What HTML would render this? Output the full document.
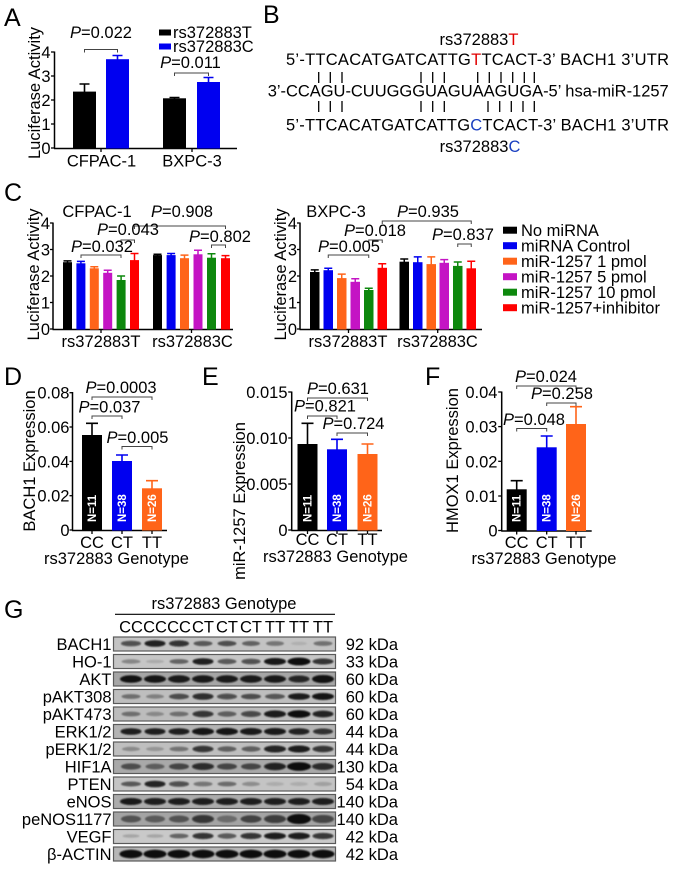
<!DOCTYPE html>
<html><head><meta charset="utf-8"><style>
html,body{margin:0;padding:0;background:#fff;}
svg{display:block;}
text{font-family:"Liberation Sans",Arial,sans-serif;}
</style></head><body>
<svg width="676" height="869" viewBox="0 0 676 869" xmlns="http://www.w3.org/2000/svg">
<defs><filter id="bl" x="-20%" y="-50%" width="140%" height="200%"><feGaussianBlur stdDeviation="0.9"/></filter></defs>
<g font-size="16.5" fill="#000">

<!-- ================= Panel A ================= -->
<text x="4" y="26" font-size="25">A</text>
<line x1="54.5" y1="51.5" x2="54.5" y2="148.5" stroke="#000" stroke-width="1.5"/>
<line x1="54" y1="148.5" x2="237" y2="148.5" stroke="#000" stroke-width="1.5"/>
<g stroke="#000" stroke-width="1.3">
<line x1="51" y1="52" x2="54.5" y2="52"/><line x1="51" y1="76" x2="54.5" y2="76"/><line x1="51" y1="100" x2="54.5" y2="100"/><line x1="51" y1="124" x2="54.5" y2="124"/><line x1="51" y1="148" x2="54.5" y2="148"/>
<line x1="101" y1="148" x2="101" y2="152"/><line x1="192" y1="148" x2="192" y2="152"/>
</g>
<g text-anchor="end"><text x="50.5" y="58">4</text><text x="50.5" y="82">3</text><text x="50.5" y="106">2</text><text x="50.5" y="130">1</text><text x="50.5" y="154">0</text></g>
<text transform="translate(40,93) rotate(-90)" text-anchor="middle">Luciferase Activity</text>
<rect x="73" y="91.6" width="23" height="56.9" fill="#000"/>
<rect x="106" y="59.2" width="23" height="89.3" fill="#0000f0"/>
<rect x="163" y="98.3" width="23" height="50.2" fill="#000"/>
<rect x="197" y="82" width="23" height="66.5" fill="#0000f0"/>
<g stroke-width="1.6" fill="none">
<path d="M84.5 92V84M79.5 84H89.5" stroke="#000"/>
<path d="M117.5 60V55.5M112.5 55.5H122.5" stroke="#0000f0"/>
<path d="M174.5 99V97.5M169.5 97.5H179.5" stroke="#000"/>
<path d="M208.5 82V77.5M203.5 77.5H213.5" stroke="#0000f0"/>
</g>
<text x="101.5" y="166.5" text-anchor="middle">CFPAC-1</text>
<text x="192" y="166.5" text-anchor="middle">BXPC-3</text>
<text x="101" y="38" text-anchor="middle"><tspan font-style="italic">P</tspan>=0.022</text>
<path d="M84.5 52.5V49.5H117.5V52.5" stroke="#444" fill="none" stroke-width="1"/>
<text x="190.5" y="68" text-anchor="middle"><tspan font-style="italic">P</tspan>=0.011</text>
<path d="M174.5 76V73H208.5V76" stroke="#444" fill="none" stroke-width="1"/>
<rect x="159" y="29.5" width="12" height="6" fill="#000"/>
<rect x="159" y="43.5" width="12" height="6" fill="#0000f0"/>
<text x="173" y="38">rs372883T</text>
<text x="173" y="52">rs372883C</text>

<!-- ================= Panel B ================= -->
<text x="263" y="23" font-size="25">B</text>
<text x="479" y="45" text-anchor="middle">rs372883<tspan fill="#e00000">T</tspan></text>
<text x="286" y="65" textLength="383" lengthAdjust="spacing">5’-TTCACATGATCATTG<tspan fill="#e00000">T</tspan>TCACT-3’ BACH1 3’UTR</text>
<text x="267.7" y="96.5" textLength="401" lengthAdjust="spacing">3’-CCAGU-CUUGGGUAGUAAGUGA-5’ hsa-miR-1257</text>
<text x="286" y="130.5" textLength="383" lengthAdjust="spacing">5’-TTCACATGATCATTG<tspan fill="#1a3fc0">C</tspan>TCACT-3’ BACH1 3’UTR</text>
<text x="480" y="152" text-anchor="middle">rs372883<tspan fill="#1a3fc0">C</tspan></text>
<g stroke="#000" stroke-width="1.3">
<path d="M318.7 72V83M330.3 72V83M342 72V83M421 72V83M432.7 72V83M444.3 72V83M477.7 72V83M489.3 72V83M501 72V83M512.7 72V83M524.3 72V83M534.3 72V83"/>
<path d="M318.7 101V112M330.3 101V112M342 101V112M421 101V112M432.7 101V112M444.3 101V112M488 101V112M499.7 101V112M511.3 101V112M523 101V112M534.3 101V112"/>
</g>

<!-- ================= Panel C left ================= -->
<text x="4" y="201" font-size="25">C</text>
<text x="97" y="217" text-anchor="middle">CFPAC-1</text>
<line x1="53" y1="222.5" x2="53" y2="329.5" stroke="#000" stroke-width="1.5"/>
<line x1="52.5" y1="329.5" x2="233" y2="329.5" stroke="#000" stroke-width="1.5"/>
<g stroke="#000" stroke-width="1.3">
<line x1="50" y1="223" x2="53" y2="223"/><line x1="50" y1="249.5" x2="53" y2="249.5"/><line x1="50" y1="276" x2="53" y2="276"/><line x1="50" y1="302.5" x2="53" y2="302.5"/><line x1="50" y1="329" x2="53" y2="329"/>
<line x1="101" y1="329" x2="101" y2="333"/><line x1="191.5" y1="329" x2="191.5" y2="333"/>
</g>
<g text-anchor="end"><text x="50" y="229">4</text><text x="50" y="255.5">3</text><text x="50" y="282">2</text><text x="50" y="308.5">1</text><text x="50" y="335">0</text></g>
<text transform="translate(39,274.5) rotate(-90)" text-anchor="middle">Luciferase Activity</text>
<g>
<rect x="63" y="262.2" width="9" height="67.3" fill="#000"/>
<rect x="76.4" y="263.3" width="9" height="66.2" fill="#0000f0"/>
<rect x="89.8" y="268.3" width="9" height="61.2" fill="#ff6419"/>
<rect x="103.2" y="272.8" width="9" height="56.7" fill="#c414c4"/>
<rect x="116.6" y="280" width="9" height="49.5" fill="#0d880d"/>
<rect x="130" y="260.1" width="9" height="69.4" fill="#ff0000"/>
<rect x="153" y="255.1" width="9" height="74.4" fill="#000"/>
<rect x="166.6" y="255.1" width="9" height="74.4" fill="#0000f0"/>
<rect x="180" y="258.2" width="9" height="71.3" fill="#ff6419"/>
<rect x="193.5" y="254.3" width="9" height="75.2" fill="#c414c4"/>
<rect x="207" y="257.7" width="9" height="71.8" fill="#0d880d"/>
<rect x="221" y="258.2" width="9" height="71.3" fill="#ff0000"/>
</g>
<g stroke-width="1.5" fill="none">
<path d="M67.5 263V260.9M63.5 260.9H71.5" stroke="#000"/>
<path d="M80.9 264V261.4M76.9 261.4H84.9" stroke="#0000f0"/>
<path d="M94.3 269V266.7M90.3 266.7H98.3" stroke="#ff6419"/>
<path d="M107.7 273V270.2M103.7 270.2H111.7" stroke="#c414c4"/>
<path d="M121.1 280V276M117.1 276H125.1" stroke="#0d880d"/>
<path d="M134.5 261V253.5M130.5 253.5H138.5" stroke="#ff0000"/>
<path d="M157.5 256V254.3M153.5 254.3H161.5" stroke="#000"/>
<path d="M171.1 256V253.5M167.1 253.5H175.1" stroke="#0000f0"/>
<path d="M184.5 259V255.1M180.5 255.1H188.5" stroke="#ff6419"/>
<path d="M198 255V250.3M194 250.3H202" stroke="#c414c4"/>
<path d="M211.5 258V253.7M207.5 253.7H215.5" stroke="#0d880d"/>
<path d="M225.5 259V255.6M221.5 255.6H229.5" stroke="#ff0000"/>
</g>
<text x="101" y="347" text-anchor="middle">rs372883T</text>
<text x="192.5" y="347" text-anchor="middle">rs372883C</text>
<g stroke="#444" fill="none" stroke-width="1">
<path d="M81 258V255H121V258"/>
<path d="M121 243V240H134.5V243"/>
<path d="M134.5 229V226H225.5V229"/>
<path d="M211.5 248V245H225.5V248"/>
</g>
<text x="102" y="252" text-anchor="middle"><tspan font-style="italic">P</tspan>=0.032</text>
<text x="128" y="235" text-anchor="middle"><tspan font-style="italic">P</tspan>=0.043</text>
<text x="182" y="217" text-anchor="middle"><tspan font-style="italic">P</tspan>=0.908</text>
<text x="220" y="242" text-anchor="middle"><tspan font-style="italic">P</tspan>=0.802</text>

<!-- ================= Panel C right ================= -->
<text x="336" y="217" text-anchor="middle">BXPC-3</text>
<line x1="300" y1="222.5" x2="300" y2="329.5" stroke="#000" stroke-width="1.5"/>
<line x1="299.5" y1="329.5" x2="482" y2="329.5" stroke="#000" stroke-width="1.5"/>
<g stroke="#000" stroke-width="1.3">
<line x1="297" y1="223" x2="300" y2="223"/><line x1="297" y1="249.5" x2="300" y2="249.5"/><line x1="297" y1="276" x2="300" y2="276"/><line x1="297" y1="302.5" x2="300" y2="302.5"/><line x1="297" y1="329" x2="300" y2="329"/>
<line x1="348.5" y1="329" x2="348.5" y2="333"/><line x1="437.7" y1="329" x2="437.7" y2="333"/>
</g>
<g text-anchor="end"><text x="297" y="229">4</text><text x="297" y="255.5">3</text><text x="297" y="282">2</text><text x="297" y="308.5">1</text><text x="297" y="335">0</text></g>
<text transform="translate(286,274.5) rotate(-90)" text-anchor="middle">Luciferase Activity</text>
<g>
<rect x="310" y="272" width="9.5" height="57.5" fill="#000"/>
<rect x="323.5" y="270.2" width="9.5" height="59.3" fill="#0000f0"/>
<rect x="337" y="278.1" width="9.5" height="51.4" fill="#ff6419"/>
<rect x="350.5" y="281.8" width="9.5" height="47.7" fill="#c414c4"/>
<rect x="364" y="290" width="9.5" height="39.5" fill="#0d880d"/>
<rect x="377.5" y="267.8" width="9.5" height="61.7" fill="#ff0000"/>
<rect x="399.5" y="261.7" width="9.5" height="67.8" fill="#000"/>
<rect x="413" y="262.2" width="9.5" height="67.3" fill="#0000f0"/>
<rect x="426.5" y="264.1" width="9.5" height="65.4" fill="#ff6419"/>
<rect x="439.5" y="262.8" width="9.5" height="66.7" fill="#c414c4"/>
<rect x="453" y="265.9" width="9.5" height="63.6" fill="#0d880d"/>
<rect x="466.5" y="268.3" width="9.5" height="61.2" fill="#ff0000"/>
</g>
<g stroke-width="1.5" fill="none">
<path d="M314.75 273V269.9M310.75 269.9H318.75" stroke="#000"/>
<path d="M328.25 271V268.3M324.25 268.3H332.25" stroke="#0000f0"/>
<path d="M341.75 279V274.1M337.75 274.1H345.75" stroke="#ff6419"/>
<path d="M355.25 282V278.7M351.25 278.7H359.25" stroke="#c414c4"/>
<path d="M368.75 291V288.2M364.75 288.2H372.75" stroke="#0d880d"/>
<path d="M382.25 268V263.8M378.25 263.8H386.25" stroke="#ff0000"/>
<path d="M404.25 262V259M400.25 259H408.25" stroke="#000"/>
<path d="M417.75 263V256.9M413.75 256.9H421.75" stroke="#0000f0"/>
<path d="M431.25 265V256.9M427.25 256.9H435.25" stroke="#ff6419"/>
<path d="M444.25 263V259.6M440.25 259.6H448.25" stroke="#c414c4"/>
<path d="M457.75 266V262M453.75 262H461.75" stroke="#0d880d"/>
<path d="M471.25 269V261.2M467.25 261.2H475.25" stroke="#ff0000"/>
</g>
<text x="348" y="347" text-anchor="middle">rs372883T</text>
<text x="437.5" y="347" text-anchor="middle">rs372883C</text>
<g stroke="#444" fill="none" stroke-width="1">
<path d="M328.25 258V255H368.75V258"/>
<path d="M368.75 243V240H382.25V243"/>
<path d="M382.25 224V221H471.25V224"/>
<path d="M457.75 247V244H471.25V247"/>
</g>
<text x="349" y="252" text-anchor="middle"><tspan font-style="italic">P</tspan>=0.005</text>
<text x="375" y="236" text-anchor="middle"><tspan font-style="italic">P</tspan>=0.018</text>
<text x="428" y="217" text-anchor="middle"><tspan font-style="italic">P</tspan>=0.935</text>
<text x="463" y="240" text-anchor="middle"><tspan font-style="italic">P</tspan>=0.837</text>

<!-- legend C -->
<rect x="503" y="226.7" width="14" height="7" fill="#000"/>
<rect x="503" y="242.2" width="14" height="7" fill="#0000f0"/>
<rect x="503" y="257.7" width="14" height="7" fill="#ff6419"/>
<rect x="503" y="273.2" width="14" height="7" fill="#c414c4"/>
<rect x="503" y="288.7" width="14" height="7" fill="#0d880d"/>
<rect x="503" y="304.2" width="14" height="7" fill="#ff0000"/>
<text x="521" y="236">No miRNA</text>
<text x="521" y="251.5">miRNA Control</text>
<text x="521" y="267">miR-1257 1 pmol</text>
<text x="521" y="282.5">miR-1257 5 pmol</text>
<text x="521" y="298">miR-1257 10 pmol</text>
<text x="521" y="313.5">miR-1257+inhibitor</text>

<!-- ================= Panel D ================= -->
<text x="4" y="385" font-size="25">D</text>
<line x1="72.5" y1="392" x2="72.5" y2="530.5" stroke="#000" stroke-width="1.5"/>
<line x1="72" y1="530.5" x2="167" y2="530.5" stroke="#000" stroke-width="1.5"/>
<g stroke="#000" stroke-width="1.3">
<line x1="69.5" y1="392.7" x2="72.5" y2="392.7"/><line x1="69.5" y1="427" x2="72.5" y2="427"/><line x1="69.5" y1="461.4" x2="72.5" y2="461.4"/><line x1="69.5" y1="495.7" x2="72.5" y2="495.7"/><line x1="69.5" y1="530" x2="72.5" y2="530"/>
<line x1="92" y1="530" x2="92" y2="534"/><line x1="122" y1="530" x2="122" y2="534"/><line x1="152" y1="530" x2="152" y2="534"/>
</g>
<g text-anchor="end"><text x="69.5" y="398.7">0.08</text><text x="69.5" y="433">0.06</text><text x="69.5" y="467.4">0.04</text><text x="69.5" y="501.7">0.02</text><text x="69.5" y="536">0</text></g>
<text transform="translate(35,461) rotate(-90)" text-anchor="middle">BACH1 Expression</text>
<rect x="82" y="435" width="20" height="95.5" fill="#000"/>
<rect x="112" y="461" width="20" height="69.5" fill="#0000f0"/>
<rect x="142" y="488.3" width="20" height="42.2" fill="#ff6419"/>
<g stroke-width="1.6" fill="none">
<path d="M92 436V423.3M86 423.3H98" stroke="#000"/>
<path d="M122 462V455M116 455H128" stroke="#0000f0"/>
<path d="M152 489V480.7M146 480.7H158" stroke="#ff6419"/>
</g>
<g fill="#fff" font-size="11.5" font-weight="bold">
<text transform="translate(96,522) rotate(-90)">N=11</text>
<text transform="translate(126,522) rotate(-90)">N=38</text>
<text transform="translate(156,522) rotate(-90)">N=26</text>
</g>
<text x="92" y="548" text-anchor="middle">CC</text><text x="122" y="548" text-anchor="middle">CT</text><text x="152" y="548" text-anchor="middle">TT</text>
<text x="116.5" y="564" text-anchor="middle">rs372883 Genotype</text>
<g stroke="#444" fill="none" stroke-width="1">
<path d="M92 400V397H152V400"/>
<path d="M92 419V416H122V419"/>
<path d="M122 449.5V446.5H152V449.5"/>
</g>
<text x="121" y="393" text-anchor="middle"><tspan font-style="italic">P</tspan>=0.0003</text>
<text x="109.5" y="412.5" text-anchor="middle"><tspan font-style="italic">P</tspan>=0.037</text>
<text x="137.5" y="443" text-anchor="middle"><tspan font-style="italic">P</tspan>=0.005</text>

<!-- ================= Panel E ================= -->
<text x="202" y="385" font-size="25">E</text>
<line x1="291.7" y1="391.5" x2="291.7" y2="530.5" stroke="#000" stroke-width="1.5"/>
<line x1="291.2" y1="530.5" x2="382" y2="530.5" stroke="#000" stroke-width="1.5"/>
<g stroke="#000" stroke-width="1.3">
<line x1="288.2" y1="392" x2="291.7" y2="392"/><line x1="288.2" y1="438" x2="291.7" y2="438"/><line x1="288.2" y1="484" x2="291.7" y2="484"/><line x1="288.2" y1="530" x2="291.7" y2="530"/>
<line x1="307.5" y1="530" x2="307.5" y2="534"/><line x1="337" y1="530" x2="337" y2="534"/><line x1="367.5" y1="530" x2="367.5" y2="534"/>
</g>
<g text-anchor="end"><text x="287.5" y="398">0.015</text><text x="287.5" y="444">0.010</text><text x="287.5" y="490">0.005</text><text x="287.5" y="536">0</text></g>
<text transform="translate(245,501) rotate(-90)" text-anchor="middle">miR-1257 Expression</text>
<rect x="297.5" y="444" width="20" height="86.5" fill="#000"/>
<rect x="327" y="449.3" width="20" height="81.2" fill="#0000f0"/>
<rect x="357.5" y="454" width="20" height="76.5" fill="#ff6419"/>
<g stroke-width="1.6" fill="none">
<path d="M307.5 445V423.3M301.5 423.3H313.5" stroke="#000"/>
<path d="M337 450V439.3M331 439.3H343" stroke="#0000f0"/>
<path d="M367.5 455V444M361.5 444H373.5" stroke="#ff6419"/>
</g>
<g fill="#fff" font-size="11.5" font-weight="bold">
<text transform="translate(311.5,522) rotate(-90)">N=11</text>
<text transform="translate(341,522) rotate(-90)">N=38</text>
<text transform="translate(371.5,522) rotate(-90)">N=26</text>
</g>
<text x="307.5" y="545" text-anchor="middle">CC</text><text x="337" y="545" text-anchor="middle">CT</text><text x="367.5" y="545" text-anchor="middle">TT</text>
<text x="335.5" y="562" text-anchor="middle">rs372883 Genotype</text>
<g stroke="#444" fill="none" stroke-width="1">
<path d="M307.5 401V398H367.5V401"/>
<path d="M307.5 419V416H337V419"/>
<path d="M337 436V433H367.5V436"/>
</g>
<text x="338" y="394" text-anchor="middle"><tspan font-style="italic">P</tspan>=0.631</text>
<text x="325" y="411.5" text-anchor="middle"><tspan font-style="italic">P</tspan>=0.821</text>
<text x="353.5" y="429" text-anchor="middle"><tspan font-style="italic">P</tspan>=0.724</text>

<!-- ================= Panel F ================= -->
<text x="425" y="385" font-size="25">F</text>
<line x1="501.7" y1="391.5" x2="501.7" y2="531" stroke="#000" stroke-width="1.5"/>
<line x1="501.2" y1="531" x2="591.7" y2="531" stroke="#000" stroke-width="1.5"/>
<g stroke="#000" stroke-width="1.3">
<line x1="498.2" y1="392" x2="501.7" y2="392"/><line x1="498.2" y1="426.6" x2="501.7" y2="426.6"/><line x1="498.2" y1="461.3" x2="501.7" y2="461.3"/><line x1="498.2" y1="496" x2="501.7" y2="496"/><line x1="498.2" y1="530.5" x2="501.7" y2="530.5"/>
<line x1="516.7" y1="530.5" x2="516.7" y2="534.5"/><line x1="546.7" y1="530.5" x2="546.7" y2="534.5"/><line x1="576" y1="530.5" x2="576" y2="534.5"/>
</g>
<g text-anchor="end"><text x="497.5" y="398">0.04</text><text x="497.5" y="432.6">0.03</text><text x="497.5" y="467.3">0.02</text><text x="497.5" y="502">0.01</text><text x="497.5" y="536.5">0</text></g>
<text transform="translate(458,460.5) rotate(-90)" text-anchor="middle">HMOX1 Expression</text>
<rect x="506.7" y="489.3" width="20" height="41.7" fill="#000"/>
<rect x="536.7" y="447.3" width="20" height="83.7" fill="#0000f0"/>
<rect x="566" y="424" width="20" height="107" fill="#ff6419"/>
<g stroke-width="1.6" fill="none">
<path d="M516.7 490V480.7M510.7 480.7H522.7" stroke="#000"/>
<path d="M546.7 448V436M540.7 436H552.7" stroke="#0000f0"/>
<path d="M576 425V406.7M570 406.7H582" stroke="#ff6419"/>
</g>
<g fill="#fff" font-size="11.5" font-weight="bold">
<text transform="translate(520.7,522) rotate(-90)">N=11</text>
<text transform="translate(550.7,522) rotate(-90)">N=38</text>
<text transform="translate(580,522) rotate(-90)">N=26</text>
</g>
<text x="516.7" y="548" text-anchor="middle">CC</text><text x="546.7" y="548" text-anchor="middle">CT</text><text x="576" y="548" text-anchor="middle">TT</text>
<text x="544" y="564" text-anchor="middle">rs372883 Genotype</text>
<g stroke="#444" fill="none" stroke-width="1">
<path d="M516.7 389V386H576V389"/>
<path d="M546.7 406V403H576V406"/>
<path d="M516.7 431.5V428.5H546.7V431.5"/>
</g>
<text x="546" y="382" text-anchor="middle"><tspan font-style="italic">P</tspan>=0.024</text>
<text x="562" y="399" text-anchor="middle"><tspan font-style="italic">P</tspan>=0.258</text>
<text x="534" y="425" text-anchor="middle"><tspan font-style="italic">P</tspan>=0.048</text>

<!-- ================= Panel G ================= -->
<text x="4" y="618" font-size="25">G</text>
<text x="224" y="609" text-anchor="middle">rs372883 Genotype</text>
<line x1="115" y1="614.3" x2="335" y2="614.3" stroke="#000" stroke-width="1.2"/>
<g text-anchor="middle">
<text x="131" y="632.7">CC</text><text x="155" y="632.7">CC</text><text x="179" y="632.7">CC</text>
<text x="203" y="632.7">CT</text><text x="227" y="632.7">CT</text><text x="251" y="632.7">CT</text>
<text x="275" y="632.7">TT</text><text x="299" y="632.7">TT</text><text x="323" y="632.7">TT</text>
</g>

<!-- strips -->
<g stroke="#5a5a5a" stroke-width="1.2">
<rect x="113.5" y="637" width="222" height="14" fill="#c3c3c3"/>
<rect x="113.5" y="654.5" width="222" height="14" fill="#c6c6c6"/>
<rect x="113.5" y="672" width="222" height="14" fill="#a6a6a6"/>
<rect x="113.5" y="689.5" width="222" height="14" fill="#bebebe"/>
<rect x="113.5" y="707" width="222" height="14" fill="#bcbcbc"/>
<rect x="113.5" y="724.5" width="222" height="14" fill="#b4b4b4"/>
<rect x="113.5" y="742" width="222" height="14" fill="#bfbfbf"/>
<rect x="113.5" y="759.5" width="222" height="14" fill="#a9a9a9"/>
<rect x="113.5" y="777" width="222" height="14" fill="#c4c4c4"/>
<rect x="113.5" y="794.5" width="222" height="14" fill="#acacac"/>
<rect x="113.5" y="812" width="222" height="14" fill="#a4a4a4"/>
<rect x="113.5" y="829.5" width="222" height="14" fill="#c9c9c9"/>
<rect x="113.5" y="847" width="222" height="14" fill="#b6b6b6"/>
</g>

<!-- bands -->
<g filter="url(#bl)" fill="#0a0a0a">
<g transform="translate(0,643.5)">
<ellipse cx="131" cy="0" rx="10" ry="2.8" opacity="0.65"/><ellipse cx="155" cy="0" rx="10.5" ry="3.3" opacity="0.9"/><ellipse cx="179" cy="0" rx="10" ry="3.1" opacity="0.8"/><ellipse cx="203" cy="0" rx="9.5" ry="2.6" opacity="0.55"/><ellipse cx="227" cy="0" rx="9.5" ry="2.7" opacity="0.6"/><ellipse cx="251" cy="0" rx="9" ry="2.5" opacity="0.5"/><ellipse cx="275" cy="0" rx="9" ry="2.4" opacity="0.4"/><ellipse cx="299" cy="0" rx="8" ry="1.8" opacity="0.1"/><ellipse cx="323" cy="0" rx="9.5" ry="2.4" opacity="0.42"/>
</g>
<g transform="translate(0,661.5)">
<ellipse cx="131" cy="0" rx="9.5" ry="2.2" opacity="0.32"/><ellipse cx="155" cy="0" rx="9" ry="1.8" opacity="0.14"/><ellipse cx="179" cy="0" rx="9.5" ry="2.4" opacity="0.5"/><ellipse cx="203" cy="0" rx="10.5" ry="3.3" opacity="0.9"/><ellipse cx="227" cy="0" rx="9.5" ry="2.7" opacity="0.55"/><ellipse cx="251" cy="0" rx="9.5" ry="2.8" opacity="0.65"/><ellipse cx="275" cy="0" rx="11" ry="3.5" opacity="0.95"/><ellipse cx="299" cy="0" rx="11.5" ry="3.9" opacity="1"/><ellipse cx="323" cy="0" rx="10.5" ry="3" opacity="0.8"/>
</g>
<g transform="translate(0,679)">
<ellipse cx="131" cy="0" rx="11" ry="3.8" opacity="0.97"/><ellipse cx="155" cy="0" rx="11" ry="3.8" opacity="0.95"/><ellipse cx="179" cy="0" rx="11" ry="3.7" opacity="0.92"/><ellipse cx="203" cy="0" rx="11" ry="3.7" opacity="0.93"/><ellipse cx="227" cy="0" rx="11" ry="3.7" opacity="0.92"/><ellipse cx="251" cy="0" rx="11" ry="3.7" opacity="0.92"/><ellipse cx="275" cy="0" rx="11" ry="3.7" opacity="0.93"/><ellipse cx="299" cy="0" rx="10.5" ry="3.5" opacity="0.85"/><ellipse cx="323" cy="0" rx="11" ry="4" opacity="0.97"/>
</g>
<g transform="translate(0,696.5)">
<ellipse cx="131" cy="0" rx="9.5" ry="2.4" opacity="0.42"/><ellipse cx="155" cy="0" rx="9" ry="2.2" opacity="0.33"/><ellipse cx="179" cy="0" rx="10" ry="2.9" opacity="0.6"/><ellipse cx="203" cy="0" rx="10.5" ry="3.3" opacity="0.82"/><ellipse cx="227" cy="0" rx="10" ry="2.9" opacity="0.65"/><ellipse cx="251" cy="0" rx="10" ry="2.8" opacity="0.6"/><ellipse cx="275" cy="0" rx="10" ry="2.7" opacity="0.55"/><ellipse cx="299" cy="0" rx="11" ry="3.3" opacity="0.92"/><ellipse cx="323" cy="0" rx="11" ry="3.5" opacity="0.96"/>
</g>
<g transform="translate(0,714)">
<ellipse cx="131" cy="0" rx="9.5" ry="2.4" opacity="0.42"/><ellipse cx="155" cy="0" rx="9" ry="2.2" opacity="0.28"/><ellipse cx="179" cy="0" rx="9.5" ry="2.4" opacity="0.42"/><ellipse cx="203" cy="0" rx="10.5" ry="3.2" opacity="0.78"/><ellipse cx="227" cy="0" rx="9.5" ry="2.7" opacity="0.5"/><ellipse cx="251" cy="0" rx="10" ry="3" opacity="0.68"/><ellipse cx="275" cy="0" rx="11" ry="3.6" opacity="0.92"/><ellipse cx="299" cy="0" rx="11.5" ry="3.8" opacity="1"/><ellipse cx="323" cy="0" rx="10.5" ry="3.4" opacity="0.88"/>
</g>
<g transform="translate(0,731.5)">
<ellipse cx="131" cy="0" rx="10.5" ry="3.3" opacity="0.9"/><ellipse cx="155" cy="0" rx="10.5" ry="3.3" opacity="0.9"/><ellipse cx="179" cy="0" rx="10.5" ry="3.3" opacity="0.9"/><ellipse cx="203" cy="0" rx="11" ry="3.6" opacity="0.95"/><ellipse cx="227" cy="0" rx="11" ry="3.6" opacity="0.95"/><ellipse cx="251" cy="0" rx="11" ry="3.5" opacity="0.93"/><ellipse cx="275" cy="0" rx="11" ry="3.5" opacity="0.93"/><ellipse cx="299" cy="0" rx="10.5" ry="3.3" opacity="0.88"/><ellipse cx="323" cy="0" rx="10" ry="3" opacity="0.8"/>
</g>
<g transform="translate(0,749)">
<ellipse cx="131" cy="0" rx="9" ry="2.2" opacity="0.28"/><ellipse cx="155" cy="0" rx="9" ry="2.1" opacity="0.22"/><ellipse cx="179" cy="0" rx="9.5" ry="2.4" opacity="0.4"/><ellipse cx="203" cy="0" rx="10.5" ry="3.2" opacity="0.78"/><ellipse cx="227" cy="0" rx="9.5" ry="2.7" opacity="0.5"/><ellipse cx="251" cy="0" rx="9.5" ry="2.7" opacity="0.5"/><ellipse cx="275" cy="0" rx="11" ry="3.5" opacity="0.88"/><ellipse cx="299" cy="0" rx="11" ry="3.5" opacity="0.92"/><ellipse cx="323" cy="0" rx="10.5" ry="3.2" opacity="0.78"/>
</g>
<g transform="translate(0,766.5)">
<ellipse cx="131" cy="0" rx="10" ry="3.1" opacity="0.55"/><ellipse cx="155" cy="0" rx="9.5" ry="2.9" opacity="0.45"/><ellipse cx="179" cy="0" rx="10" ry="3.1" opacity="0.6"/><ellipse cx="203" cy="0" rx="11" ry="3.5" opacity="0.82"/><ellipse cx="227" cy="0" rx="10" ry="3.1" opacity="0.6"/><ellipse cx="251" cy="0" rx="10" ry="3.1" opacity="0.6"/><ellipse cx="275" cy="0" rx="11" ry="3.7" opacity="0.88"/><ellipse cx="299" cy="0" rx="12" ry="4.3" opacity="1"/><ellipse cx="323" cy="0" rx="11" ry="3.5" opacity="0.82"/>
</g>
<g transform="translate(0,784)">
<ellipse cx="131" cy="0" rx="10" ry="2.5" opacity="0.55"/><ellipse cx="155" cy="0" rx="10.5" ry="3.3" opacity="0.88"/><ellipse cx="179" cy="0" rx="10" ry="2.8" opacity="0.65"/><ellipse cx="203" cy="0" rx="9.5" ry="2.4" opacity="0.4"/><ellipse cx="227" cy="0" rx="9.5" ry="2.4" opacity="0.45"/><ellipse cx="251" cy="0" rx="9" ry="2.2" opacity="0.28"/><ellipse cx="275" cy="0" rx="9" ry="2" opacity="0.12"/><ellipse cx="299" cy="0" rx="9" ry="2" opacity="0.12"/><ellipse cx="323" cy="0" rx="9" ry="2.1" opacity="0.18"/>
</g>
<g transform="translate(0,801.5)">
<ellipse cx="131" cy="0" rx="11" ry="3.5" opacity="0.93"/><ellipse cx="155" cy="0" rx="11" ry="3.5" opacity="0.9"/><ellipse cx="179" cy="0" rx="11" ry="3.5" opacity="0.9"/><ellipse cx="203" cy="0" rx="11" ry="3.5" opacity="0.9"/><ellipse cx="227" cy="0" rx="11" ry="3.5" opacity="0.9"/><ellipse cx="251" cy="0" rx="11" ry="3.5" opacity="0.9"/><ellipse cx="275" cy="0" rx="11" ry="3.5" opacity="0.9"/><ellipse cx="299" cy="0" rx="11" ry="3.5" opacity="0.9"/><ellipse cx="323" cy="0" rx="11" ry="3.5" opacity="0.9"/>
</g>
<g transform="translate(0,819)">
<ellipse cx="131" cy="0" rx="10" ry="3.5" opacity="0.5"/><ellipse cx="155" cy="0" rx="10" ry="3.5" opacity="0.45"/><ellipse cx="179" cy="0" rx="10" ry="3.5" opacity="0.5"/><ellipse cx="203" cy="0" rx="11" ry="4" opacity="0.75"/><ellipse cx="227" cy="0" rx="10" ry="3.5" opacity="0.35"/><ellipse cx="251" cy="0" rx="10.5" ry="3.7" opacity="0.6"/><ellipse cx="275" cy="0" rx="11" ry="4" opacity="0.7"/><ellipse cx="299" cy="0" rx="12" ry="5" opacity="1"/><ellipse cx="323" cy="0" rx="11" ry="4" opacity="0.65"/>
</g>
<g transform="translate(0,836)">
<ellipse cx="131" cy="0" rx="8.5" ry="1.8" opacity="0.18"/><ellipse cx="155" cy="0" rx="8.5" ry="1.8" opacity="0.18"/><ellipse cx="179" cy="0" rx="9.5" ry="2.4" opacity="0.5"/><ellipse cx="203" cy="0" rx="10.5" ry="3.1" opacity="0.8"/><ellipse cx="227" cy="0" rx="9.5" ry="2.7" opacity="0.55"/><ellipse cx="251" cy="0" rx="10.5" ry="3.1" opacity="0.8"/><ellipse cx="275" cy="0" rx="11" ry="3.4" opacity="0.92"/><ellipse cx="299" cy="0" rx="11" ry="3.4" opacity="0.92"/><ellipse cx="323" cy="0" rx="10.5" ry="3.1" opacity="0.78"/>
</g>
<g transform="translate(0,854)">
<ellipse cx="131" cy="0" rx="11.5" ry="4.2" opacity="1"/><ellipse cx="155" cy="0" rx="11.5" ry="4.2" opacity="1"/><ellipse cx="179" cy="0" rx="11.5" ry="4.2" opacity="1"/><ellipse cx="203" cy="0" rx="11.5" ry="4.2" opacity="1"/><ellipse cx="227" cy="0" rx="11.5" ry="4.2" opacity="1"/><ellipse cx="251" cy="0" rx="11.5" ry="4.2" opacity="1"/><ellipse cx="275" cy="0" rx="11.5" ry="4.2" opacity="1"/><ellipse cx="299" cy="0" rx="11.5" ry="4.2" opacity="1"/><ellipse cx="323" cy="0" rx="11.5" ry="4.2" opacity="1"/>
</g>
</g>

<!-- row labels -->
<g text-anchor="end">
<text x="111.5" y="650">BACH1</text>
<text x="111.5" y="667.5">HO-1</text>
<text x="111.5" y="685">AKT</text>
<text x="111.5" y="702.5">pAKT308</text>
<text x="111.5" y="720">pAKT473</text>
<text x="111.5" y="737.5">ERK1/2</text>
<text x="111.5" y="755">pERK1/2</text>
<text x="111.5" y="772.5">HIF1A</text>
<text x="111.5" y="790">PTEN</text>
<text x="111.5" y="807.5">eNOS</text>
<text x="111.5" y="825">peNOS1177</text>
<text x="111.5" y="842.5">VEGF</text>
<text x="111.5" y="860">β-ACTIN</text>
</g>
<g text-anchor="end">
<text x="398" y="650">92 kDa</text>
<text x="398" y="667.5">33 kDa</text>
<text x="398" y="685">60 kDa</text>
<text x="398" y="702.5">60 kDa</text>
<text x="398" y="720">60 kDa</text>
<text x="398" y="737.5">44 kDa</text>
<text x="398" y="755">44 kDa</text>
<text x="398" y="772.5">130 kDa</text>
<text x="398" y="790">54 kDa</text>
<text x="398" y="807.5">140 kDa</text>
<text x="398" y="825">140 kDa</text>
<text x="398" y="842.5">42 kDa</text>
<text x="398" y="860">42 kDa</text>
</g>
</g>
</svg>
</body></html>
